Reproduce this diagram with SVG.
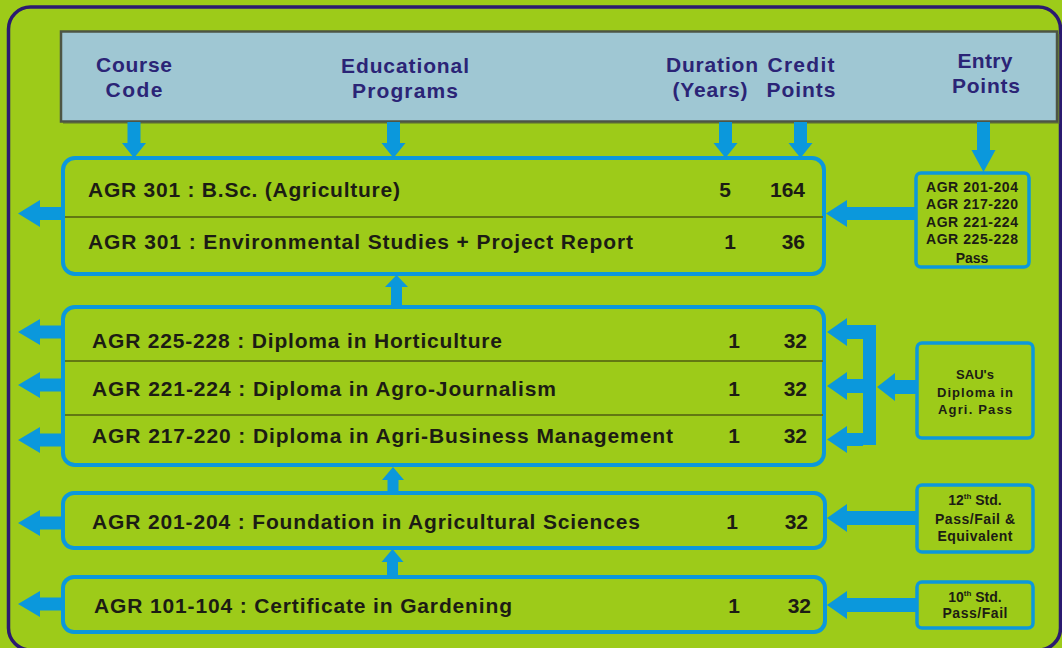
<svg xmlns="http://www.w3.org/2000/svg" width="1062" height="648" viewBox="0 0 1062 648">
<style>
.hd{font-family:"Liberation Sans",Arial,sans-serif;font-weight:bold;font-size:21px;fill:#2b2476;text-anchor:middle}
.row{font-family:"Liberation Sans",Arial,sans-serif;font-weight:bold;font-size:21px;fill:#1c1c14}
.num{font-family:"Liberation Sans",Arial,sans-serif;font-weight:bold;font-size:21px;fill:#1c1c14;text-anchor:end}
.sm{font-family:"Liberation Sans",Arial,sans-serif;font-weight:bold;font-size:14px;fill:#1c1c14;text-anchor:middle}
.sm2{font-family:"Liberation Sans",Arial,sans-serif;font-weight:bold;font-size:13px;fill:#1c1c14;text-anchor:middle}
.sup{font-size:8px}
.box{fill:#9dcb19;stroke:#0b98dc;stroke-width:4}
.ebox{fill:#9dcb19;stroke:#0b98dc;stroke-width:3.5}
.div{stroke:#627812;stroke-width:2}
.arr{fill:#0b98dc}
</style>
<rect width="1062" height="648" fill="#9dcb19"/>
<rect x="8.5" y="7" width="1052" height="643" rx="22" fill="#9dcb19" stroke="#2b1a70" stroke-width="3.5"/>

<g id="header">
<rect x="63" y="34" width="997" height="90" fill="#55603a" opacity="0.45"/>
<rect x="61" y="31.5" width="996" height="90" fill="#9fc7d3" stroke="#4d5544" stroke-width="2.5"/>
<text class="hd" x="134" y="72" textLength="76">Course</text>
<text class="hd" x="134" y="97" textLength="57">Code</text>
<text class="hd" x="405" y="73" textLength="128">Educational</text>
<text class="hd" x="405" y="98" textLength="106">Programs</text>
<text class="hd" x="712" y="72" textLength="92">Duration</text>
<text class="hd" x="710" y="97" textLength="75">(Years)</text>
<text class="hd" x="801" y="72" textLength="67">Credit</text>
<text class="hd" x="801" y="97" textLength="69">Points</text>
<text class="hd" x="985" y="68" textLength="55">Entry</text>
<text class="hd" x="986" y="93" textLength="68">Points</text>
</g>

<g id="box1">
<rect class="box" x="63" y="158" width="761" height="116" rx="12"/>
<line class="div" x1="65" y1="217" x2="823" y2="217"/>
<text class="row" x="88" y="197" textLength="312">AGR 301 : B.Sc. (Agriculture)</text>
<text class="num" x="731" y="197">5</text>
<text class="num" x="805" y="197">164</text>
<text class="row" x="88" y="249" textLength="545">AGR 301 : Environmental Studies + Project Report</text>
<text class="num" x="736" y="249">1</text>
<text class="num" x="805" y="249">36</text>
</g>

<g id="box2">
<rect class="box" x="63" y="307" width="761" height="158" rx="12"/>
<line class="div" x1="65" y1="361" x2="823" y2="361"/>
<line class="div" x1="65" y1="415" x2="823" y2="415"/>
<text class="row" x="92" y="348" textLength="410">AGR 225-228 : Diploma in Horticulture</text>
<text class="num" x="740" y="348">1</text>
<text class="num" x="807" y="348">32</text>
<text class="row" x="92" y="396" textLength="464">AGR 221-224 : Diploma in Agro-Journalism</text>
<text class="num" x="740" y="396">1</text>
<text class="num" x="807" y="396">32</text>
<text class="row" x="92" y="443" textLength="581">AGR 217-220 : Diploma in Agri-Business Management</text>
<text class="num" x="740" y="443">1</text>
<text class="num" x="807" y="443">32</text>
</g>

<g id="box3">
<rect class="box" x="63" y="493" width="762" height="55" rx="11"/>
<text class="row" x="92" y="529" textLength="548">AGR 201-204 : Foundation in Agricultural Sciences</text>
<text class="num" x="738" y="529">1</text>
<text class="num" x="808" y="529">32</text>
</g>

<g id="box4">
<rect class="box" x="63" y="577" width="762" height="55" rx="11"/>
<text class="row" x="94" y="613" textLength="418">AGR 101-104 : Certificate in Gardening</text>
<text class="num" x="740" y="613">1</text>
<text class="num" x="811" y="613">32</text>
</g>

<g id="entry1">
<rect class="ebox" x="916" y="173" width="113" height="94" rx="5"/>
<text class="sm" x="972" y="192" textLength="92">AGR 201-204</text>
<text class="sm" x="972" y="209" textLength="92">AGR 217-220</text>
<text class="sm" x="972" y="227" textLength="92">AGR 221-224</text>
<text class="sm" x="972" y="244" textLength="92">AGR 225-228</text>
<text class="sm" x="972" y="263">Pass</text>
</g>

<g id="entry2">
<rect class="ebox" x="917" y="343" width="116" height="95" rx="5"/>
<text class="sm2" x="975" y="379">SAU's</text>
<text class="sm2" x="975" y="397" textLength="76">Diploma in</text>
<text class="sm2" x="975" y="414" textLength="74">Agri. Pass</text>
</g>

<g id="entry3">
<rect class="ebox" x="917" y="485" width="116" height="67" rx="5"/>
<text class="sm" x="975" y="505">12<tspan class="sup" dy="-6">th</tspan><tspan dy="6"> Std.</tspan></text>
<text class="sm" x="975" y="524" textLength="80">Pass/Fail &amp;</text>
<text class="sm" x="975" y="541" textLength="75">Equivalent</text>
</g>

<g id="entry4">
<rect class="ebox" x="917" y="582" width="116" height="46" rx="5"/>
<text class="sm" x="975" y="602">10<tspan class="sup" dy="-6">th</tspan><tspan dy="6"> Std.</tspan></text>
<text class="sm" x="975" y="618" textLength="65">Pass/Fail</text>
</g>

<g id="connectors" class="arr">
<polygon points="127.5,122 140.5,122 140.5,143 146,143 134,158 122,143 127.5,143"/>
<polygon points="387,122 400,122 400,143 405.5,143 393.5,158 381.5,143 387,143"/>
<polygon points="719,122 732,122 732,143 737.5,143 725.5,158 713.5,143 719,143"/>
<polygon points="794,122 807,122 807,143 812.5,143 800.5,158 788.5,143 794,143"/>
<polygon points="977,122 990,122 990,150 995.5,150 983.5,172 971.5,150 977,150"/>
<polygon points="391,307 402,307 402,287 408,287 396.5,275 385,287 391,287"/>
<polygon points="387.5,493 398.5,493 398.5,480 404,480 393,467 382,480 387.5,480"/>
<polygon points="387,577 398,577 398,562 403.5,562 392.5,549 381.5,562 387,562"/>
<polygon points="63,207 40,207 40,200 18,213.5 40,227 40,220 63,220"/>
<polygon points="63,325.5 40,325.5 40,319 18,332 40,345 40,338.5 63,338.5"/>
<polygon points="63,378.5 40,378.5 40,372 18,385 40,398 40,391.5 63,391.5"/>
<polygon points="63,433.5 40,433.5 40,427 18,440 40,453 40,446.5 63,446.5"/>
<polygon points="63,516.5 40,516.5 40,510 18,523 40,536 40,529.5 63,529.5"/>
<polygon points="63,597.5 40,597.5 40,591 18,604 40,617 40,610.5 63,610.5"/>
<polygon points="916,207 847,207 847,200 826,213.5 847,227 847,220 916,220"/>
<polygon points="917,380 895,380 895,373 877,387 895,401 895,394 917,394"/>
<rect x="863" y="325" width="13" height="120"/>
<polygon points="863,325 847,325 847,318 827,332 847,346 847,339 863,339"/>
<polygon points="863,379 847,379 847,372 827,386 847,400 847,393 863,393"/>
<polygon points="863,433 847,433 847,426 827,439.5 847,453 847,446 863,446"/>
<polygon points="917,511 847,511 847,504 827,518 847,532 847,525 917,525"/>
<polygon points="917,598 847,598 847,591 827,605 847,619 847,612 917,612"/>
</g>
</svg>
